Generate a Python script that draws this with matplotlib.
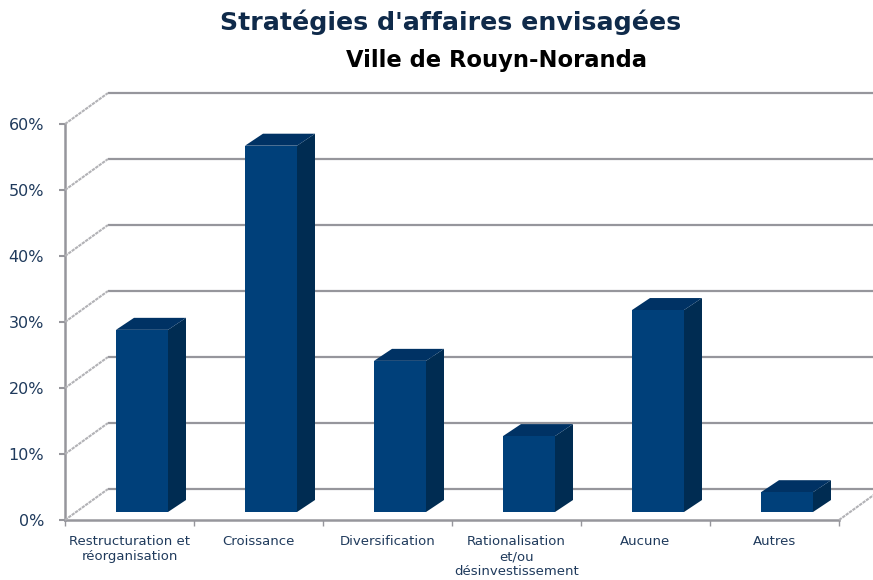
import matplotlib
matplotlib.use("Agg")
import matplotlib.pyplot as plt
from matplotlib.patches import Polygon
from matplotlib.transforms import Affine2D

categories = ["Restructuration et\nréorganisation", "Croissance", "Diversification",
              "Rationalisation\net/ou\ndésinvestissement", "Aucune", "Autres"]
values = [27.6, 55.5, 22.9, 11.5, 30.6, 3.0]
yticks = [0, 10, 20, 30, 40, 50, 60]
ytick_labels = ["0%", "10%", "20%", "30%", "40%", "50%", "60%"]
title = "Stratégies d'affaires envisagées"
subtitle = "Ville de Rouyn-Noranda"

W, H = 873, 580
L, R, B, T = 65, 839, 520, 124
FRONT = "#00407a"
SIDE = "#002c52"
GRID = "#96969c"
TXT = "#1f3a5c"

fig = plt.figure(figsize=(W / 100, H / 100), dpi=100, facecolor="white")
ax = fig.add_axes([L / W, 1 - B / H, (R - L) / W, (B - T) / H])
ax.set_xlim(0, len(categories))
ax.set_ylim(0, 60)
ax.patch.set_visible(False)
for s in ("top", "right"):
    ax.spines[s].set_visible(False)
for s in ("left", "bottom"):
    ax.spines[s].set_color(GRID)
    ax.spines[s].set_linewidth(1.8)

def off(dx, dy):
    return ax.transData + Affine2D().translate(dx, dy)

# back wall lines and oblique connectors
DX, DY = 43, 31
CONN = dict(color="#b2b2b6", lw=1.5, ls=(0, (1.6, 0.4)), transform=None, zorder=1)
for v in yticks:
    ax.plot([0, 6.6], [v, v], color=GRID, lw=1.6, transform=off(DX, DY), clip_on=False,
            solid_capstyle="butt", zorder=1)
    p0 = ax.transData.transform((0, v))
    fig.add_artist(plt.Line2D([p0[0], p0[0] + DX], [p0[1], p0[1] + DY], **CONN))
p1 = ax.transData.transform((6, 0))
fig.add_artist(plt.Line2D([p1[0], p1[0] + DX], [p1[1], p1[1] + DY], **CONN))

# bars: front face with side and top faces at a pixel offset
xs = [i + 0.5 for i in range(len(values))]
bw = 52 / 129
FX, FY = 12.5, 8
SX, SY = 18, 12
for x, v in zip(xs, values):
    ax.bar(x, v, width=bw, color=FRONT, transform=off(FX, FY), zorder=4, clip_on=False)
    (xl, y0) = ax.transData.transform((x - bw / 2, 0)) + (FX, FY)
    (xr, y1) = ax.transData.transform((x + bw / 2, v)) + (FX, FY)
    ax.add_patch(Polygon([(xr, y0), (xr + SX, y0 + SY), (xr + SX, y1 + SY), (xr, y1)],
                         closed=True, fc=SIDE, ec="none", transform=None, zorder=3, clip_on=False))
    ax.add_patch(Polygon([(xl, y1), (xl + SX, y1 + SY), (xr + SX, y1 + SY), (xr, y1)],
                         closed=True, fc="#003264", ec="none", transform=None, zorder=3, clip_on=False))

ax.set_yticks(yticks, ytick_labels)
ax.set_xticks(range(len(categories) + 1), [""] * (len(categories) + 1))
ax.tick_params(axis="y", length=4, width=1.5, color=GRID, labelsize=11.5, labelcolor=TXT, pad=11)
ax.tick_params(axis="x", length=4, width=1, color=GRID, direction="out")
for x, c in zip(xs, categories):
    ax.text(x, -2.3, c, ha="center", va="top", fontsize=9.5, color=TXT, linespacing=1.2, clip_on=False)

fig.text(451 / W, 1 - 22 / H, title, ha="center", va="center", fontsize=18.2, fontweight="bold", color="#0f2a4a")
fig.text(496 / W, 1 - 60 / H, subtitle, ha="center", va="center", fontsize=16.3, fontweight="bold", color="black")

fig.savefig("out.png", dpi=100)
